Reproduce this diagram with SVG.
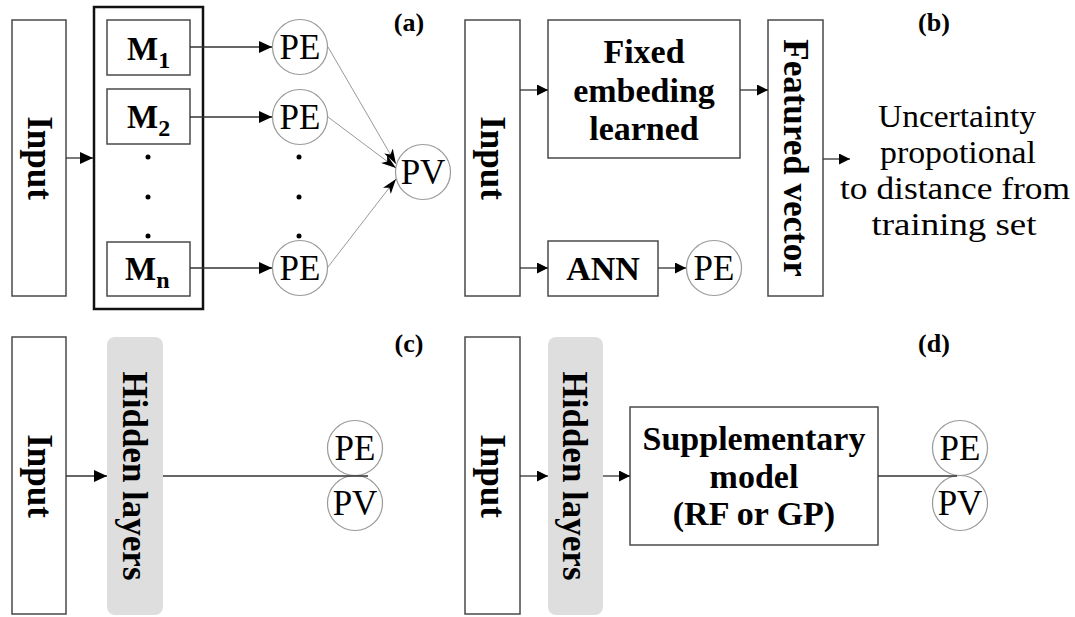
<svg xmlns="http://www.w3.org/2000/svg" width="1075" height="617" viewBox="0 0 1075 617">
<style>
text{font-family:"Times New Roman",Times,"Liberation Serif","Noto Serif","DejaVu Serif",serif;fill:#000}
.box{fill:#fff;stroke:#4a4a4a;stroke-width:1.5}
.outer{fill:none;stroke:#111;stroke-width:2.5}
.hid{fill:#dedede;stroke:none}
.circ{fill:#fff;stroke:#9a9a9a;stroke-width:1.2}
.lbl{font-size:26px;font-weight:bold;text-anchor:middle}
.rot{font-size:35px;font-weight:bold;text-anchor:middle}
.hb{font-size:34px;font-weight:bold;text-anchor:middle}
.pe{font-size:35px;text-anchor:middle}
.m{font-size:33px;font-weight:bold}
.sub{font-size:24px;font-weight:bold}
.unc{font-size:32px;text-anchor:middle}
.con{fill:none;stroke:#333;stroke-width:1.3}
.con2{fill:none;stroke:#999;stroke-width:1}
.dot{fill:#000}
</style>
<defs>
<marker id="ah" markerUnits="userSpaceOnUse" markerWidth="13" markerHeight="12" refX="13" refY="6" orient="auto"><path d="M0,0 L13,6 L0,12 z" fill="#000"/></marker>
<marker id="ahs" markerUnits="userSpaceOnUse" markerWidth="11" markerHeight="11" refX="11" refY="5.5" orient="auto"><path d="M0,0 L11,5.5 L0,11 z" fill="#000"/></marker>
<marker id="ah2" markerUnits="userSpaceOnUse" markerWidth="15" markerHeight="10" refX="15" refY="5" orient="auto"><path d="M0,0 L15,5 L0,10 L4,5 z" fill="#000"/></marker>
</defs>
<rect width="1075" height="617" fill="#fff"/>

<!-- Panel (a) -->
<g id="a-input"><rect class="box" x="12" y="20" width="54" height="276"/><text class="rot" transform="translate(28,158) rotate(90)">Input</text></g>
<g id="a-ensemble"><rect class="outer" x="94" y="7" width="109" height="302"/></g>
<g id="a-m1"><rect class="box" x="107" y="20" width="83" height="55"/><text x="127" y="60"><tspan class="m">M</tspan><tspan class="sub" dy="8">1</tspan></text></g>
<g id="a-m2"><rect class="box" x="107" y="89" width="83" height="55"/><text x="127" y="128"><tspan class="m">M</tspan><tspan class="sub" dy="8">2</tspan></text></g>
<g id="a-mdots"><circle class="dot" cx="148" cy="157" r="2.5"/><circle class="dot" cx="148" cy="197" r="2.5"/><circle class="dot" cx="148" cy="236" r="2.5"/></g>
<g id="a-mn"><rect class="box" x="107" y="242" width="83" height="54"/><text x="125" y="280"><tspan class="m">M</tspan><tspan class="sub" dy="8">n</tspan></text></g>
<g id="a-pe1"><circle class="circ" cx="300" cy="47" r="27.5"/><text class="pe" x="300" y="59">PE</text></g>
<g id="a-pe2"><circle class="circ" cx="300" cy="117" r="27.5"/><text class="pe" x="300" y="129">PE</text></g>
<g id="a-pedots"><circle class="dot" cx="299" cy="157" r="2.5"/><circle class="dot" cx="299" cy="197" r="2.5"/><circle class="dot" cx="299" cy="236" r="2.5"/></g>
<g id="a-pe3"><circle class="circ" cx="300" cy="268" r="27.5"/><text class="pe" x="300" y="280">PE</text></g>
<g id="a-pv"><circle class="circ" cx="423" cy="172" r="27.5"/><text class="pe" x="423" y="184">PV</text></g>
<g id="a-label"><text class="lbl" x="409" y="31">(a)</text></g>

<!-- Panel (b) -->
<g id="b-input"><rect class="box" x="465" y="20" width="55" height="276"/><text class="rot" transform="translate(481,158) rotate(90)">Input</text></g>
<g id="b-fixed"><rect class="box" x="548" y="20" width="192" height="138"/><text class="hb" x="644" y="63">Fixed</text><text class="hb" x="644" y="102">embeding</text><text class="hb" x="644" y="140">learned</text></g>
<g id="b-featured"><rect class="box" x="768" y="20" width="55" height="276"/><text class="rot" transform="translate(784,158) rotate(90)">Featured vector</text></g>
<g id="b-ann"><rect class="box" x="548" y="241" width="110" height="55"/><text class="hb" x="603" y="280">ANN</text></g>
<g id="b-pe"><circle class="circ" cx="714" cy="268" r="27.5"/><text class="pe" x="714" y="280">PE</text></g>
<g id="b-uncert"><text class="unc" x="957" y="127" textLength="158" lengthAdjust="spacingAndGlyphs">Uncertainty</text><text class="unc" x="958" y="163" textLength="156" lengthAdjust="spacingAndGlyphs">propotional</text><text class="unc" x="955" y="199" textLength="230" lengthAdjust="spacingAndGlyphs">to distance from</text><text class="unc" x="954" y="235" textLength="165" lengthAdjust="spacingAndGlyphs">training set</text></g>
<g id="b-label"><text class="lbl" x="934" y="31">(b)</text></g>

<!-- Panel (c) -->
<g id="c-input"><rect class="box" x="12" y="337" width="54" height="277"/><text class="rot" transform="translate(28,476) rotate(90)">Input</text></g>
<g id="c-hidden"><rect class="hid" x="107" y="337" width="56" height="278" rx="8"/><text class="rot" transform="translate(123,476) rotate(90)">Hidden layers</text></g>
<g id="c-pe"><circle class="circ" cx="355" cy="448" r="27.5"/><text class="pe" x="355" y="460">PE</text></g>
<g id="c-pv"><circle class="circ" cx="355" cy="503" r="27.5"/><text class="pe" x="355" y="515">PV</text></g>
<g id="c-label"><text class="lbl" x="409" y="352">(c)</text></g>

<!-- Panel (d) -->
<g id="d-input"><rect class="box" x="465" y="337" width="55" height="277"/><text class="rot" transform="translate(481,476) rotate(90)">Input</text></g>
<g id="d-hidden"><rect class="hid" x="548" y="337" width="55" height="278" rx="8"/><text class="rot" transform="translate(563,476) rotate(90)">Hidden layers</text></g>
<g id="d-supp"><rect class="box" x="630" y="407" width="248" height="138"/><text class="hb" x="754" y="450">Supplementary</text><text class="hb" x="754" y="488">model</text><text class="hb" x="754" y="525">(RF or GP)</text></g>
<g id="d-pe"><circle class="circ" cx="960" cy="448" r="27.5"/><text class="pe" x="960" y="460">PE</text></g>
<g id="d-pv"><circle class="circ" cx="960" cy="503" r="27.5"/><text class="pe" x="960" y="515">PV</text></g>
<g id="d-label"><text class="lbl" x="934" y="352">(d)</text></g>

<g id="connectors">
<path class="con" d="M66,158 H93" marker-end="url(#ah)"/>
<path class="con" d="M190,47 H272" marker-end="url(#ah)"/>
<path class="con" d="M190,117 H272" marker-end="url(#ah)"/>
<path class="con" d="M190,268 H272" marker-end="url(#ah)"/>
<path class="con2" d="M328,47 L396,164" marker-end="url(#ah2)"/>
<path class="con2" d="M328,117 L396,168" marker-end="url(#ah2)"/>
<path class="con2" d="M328,267 L396,179" marker-end="url(#ah2)"/>
<path class="con" d="M520,90 H548" marker-end="url(#ahs)"/>
<path class="con" d="M740,90 H768" marker-end="url(#ahs)"/>
<path class="con" d="M520,268 H548" marker-end="url(#ahs)"/>
<path class="con" d="M658,268 H686" marker-end="url(#ahs)"/>
<path class="con" d="M823,159 H850" marker-end="url(#ahs)"/>
<path class="con" d="M66,476 H107" marker-end="url(#ah)"/>
<path class="con" d="M163,476 H368"/>
<path class="con" d="M520,476 H548" marker-end="url(#ahs)"/>
<path class="con" d="M603,476 H630" marker-end="url(#ahs)"/>
<path class="con" d="M878,476 H957"/>
</g>
</svg>
